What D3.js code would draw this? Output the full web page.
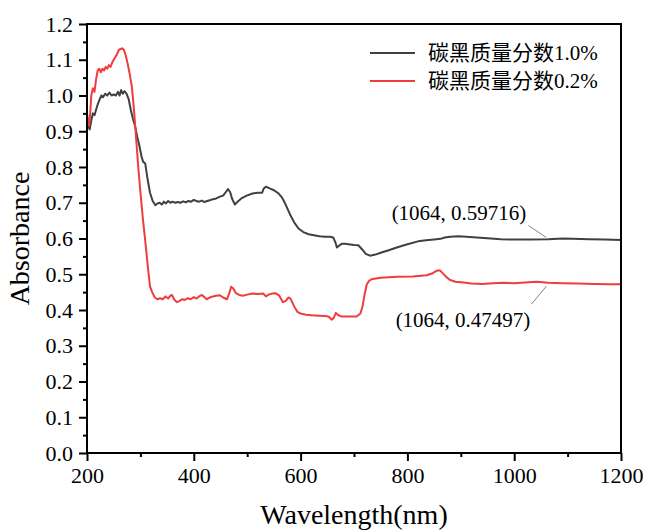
<!DOCTYPE html>
<html>
<head>
<meta charset="utf-8">
<script src="https://cdn.jsdelivr.net/npm/d3@7"></script>
<style>
  body { margin: 0; background: #fff; }
</style>
</head>
<body>
<div id="chart"></div>
<script>
// wavelength (nm) and absorbance
const blackWl = [200, 202, 205, 208, 211, 214, 217, 220, 224, 227, 230, 234, 238, 242, 246, 250, 254, 258, 261, 264, 267, 270, 274, 278, 282, 286, 290, 294, 298, 302, 305, 309, 313, 318, 323, 328, 332, 336, 340, 344, 348, 352, 356, 360, 365, 370, 375, 380, 385, 390, 395, 400, 405, 410, 415, 420, 425, 430, 436, 442, 449, 455, 460, 464, 468, 472, 477, 482, 490, 499, 510, 520, 528, 531, 535, 542, 550, 558, 565, 572, 580, 588, 596, 605, 615, 625, 635, 645, 655, 661, 665, 668, 672, 677, 683, 690, 700, 708, 715, 722, 730, 740, 750, 765, 780, 800, 820, 835, 850, 862, 870, 880, 895, 910, 930, 950, 975, 1000, 1030, 1064, 1090, 1110, 1140, 1170, 1200];
const blackAbs = [0.93, 0.915, 0.905, 0.93, 0.95, 0.945, 0.96, 0.975, 0.99, 1.0, 0.995, 1.005, 1.0, 1.008, 1.0, 1.003, 1.0, 1.01, 1.0, 1.015, 1.005, 1.012, 1.005, 0.99, 0.96, 0.935, 0.915, 0.885, 0.86, 0.83, 0.815, 0.81, 0.77, 0.728, 0.705, 0.693, 0.698, 0.70, 0.695, 0.703, 0.698, 0.705, 0.70, 0.703, 0.70, 0.702, 0.70, 0.704, 0.701, 0.705, 0.703, 0.708, 0.705, 0.703, 0.706, 0.702, 0.705, 0.707, 0.71, 0.712, 0.717, 0.72, 0.73, 0.738, 0.73, 0.71, 0.695, 0.703, 0.713, 0.72, 0.726, 0.728, 0.728, 0.74, 0.745, 0.74, 0.735, 0.727, 0.715, 0.695, 0.668, 0.645, 0.628, 0.618, 0.612, 0.609, 0.606, 0.605, 0.605, 0.603, 0.59, 0.575, 0.58, 0.585, 0.585, 0.584, 0.582, 0.581, 0.57, 0.557, 0.552, 0.555, 0.56, 0.567, 0.575, 0.584, 0.592, 0.595, 0.597, 0.599, 0.603, 0.605, 0.606, 0.605, 0.603, 0.601, 0.598, 0.597, 0.597, 0.598, 0.60, 0.599, 0.598, 0.597, 0.596];

const redWl = [200, 202, 204, 206, 208, 211, 214, 217, 220, 223, 226, 229, 232, 235, 238, 241, 244, 248, 252, 256, 260, 263, 266, 269, 272, 276, 280, 284, 288, 292, 296, 300, 305, 309, 314, 318, 322, 327, 332, 337, 342, 347, 352, 356, 359, 363, 368, 373, 378, 383, 389, 394, 400, 405, 410, 415, 420, 424, 430, 436, 442, 449, 455, 462, 466, 470, 474, 479, 485, 492, 500, 510, 520, 530, 535, 540, 547, 553, 560, 567, 572, 577, 581, 588, 594, 600, 610, 620, 635, 646, 653, 658, 662, 666, 670, 676, 690, 705, 712, 716, 720, 724, 729, 735, 750, 780, 810, 836, 846, 855, 861, 866, 873, 880, 890, 905, 920, 940, 960, 980, 1000, 1020, 1042, 1064, 1090, 1120, 1150, 1180, 1200];
const redAbs = [0.95, 0.93, 0.915, 0.95, 1.0, 1.02, 1.01, 1.045, 1.07, 1.075, 1.065, 1.075, 1.07, 1.08, 1.075, 1.085, 1.08, 1.095, 1.105, 1.115, 1.128, 1.13, 1.132, 1.128, 1.115, 1.09, 1.06, 1.025, 0.96, 0.88, 0.80, 0.73, 0.65, 0.595, 0.52, 0.466, 0.45, 0.435, 0.43, 0.433, 0.43, 0.438, 0.432, 0.44, 0.442, 0.43, 0.422, 0.425, 0.43, 0.428, 0.433, 0.43, 0.436, 0.432, 0.438, 0.442, 0.436, 0.43, 0.435, 0.438, 0.44, 0.441, 0.435, 0.43, 0.445, 0.465, 0.46, 0.447, 0.442, 0.44, 0.443, 0.446, 0.445, 0.446, 0.438, 0.443, 0.446, 0.447, 0.44, 0.422, 0.425, 0.435, 0.432, 0.41, 0.395, 0.39, 0.387, 0.385, 0.384, 0.383, 0.381, 0.373, 0.378, 0.392, 0.386, 0.382, 0.382, 0.382, 0.39, 0.41, 0.445, 0.472, 0.483, 0.487, 0.49, 0.493, 0.494, 0.497, 0.502, 0.51, 0.511, 0.503, 0.492, 0.484, 0.479, 0.477, 0.474, 0.473, 0.475, 0.476, 0.475, 0.477, 0.479, 0.476, 0.475, 0.474, 0.473, 0.472, 0.472];

const seriesNames = ['碳黑质量分数1.0%', '碳黑质量分数0.2%'];
const seriesColors = ['#404040', '#f03c3c'];
const xTicks = [200, 400, 600, 800, 1000, 1200];
const yTicks = [0.0, 0.1, 0.2, 0.3, 0.4, 0.5, 0.6, 0.7, 0.8, 0.9, 1.0, 1.1, 1.2];
const markWl = 1064;
const markLabels = ['(1064, 0.59716)', '(1064, 0.47497)'];
const markValues = [0.59716, 0.47497];

const serif = '"Liberation Serif", "Times New Roman", "Noto Sans CJK SC", serif';

const W = 647, H = 530;
const margin = { top: 24, right: 26, bottom: 77, left: 87 };
const width = W - margin.left - margin.right;
const height = H - margin.top - margin.bottom;

const svg = d3.select('#chart')
  .append('svg')
  .attr('width', W)
  .attr('height', H)
  .append('g')
  .attr('transform', `translate(${margin.left}, ${margin.top})`);

const xScale = d3.scaleLinear().domain([200, 1200]).range([0, width]);
const yScale = d3.scaleLinear().domain([0, 1.2]).range([height, 0]);

// curves
const line = d3.line().x((d) => xScale(d[0])).y((d) => yScale(d[1]));
const series = [
  d3.zip(blackWl, blackAbs),
  d3.zip(redWl, redAbs)
];
series.forEach((s, i) => {
  svg.append('path')
    .datum(s)
    .attr('fill', 'none')
    .attr('stroke', seriesColors[i])
    .attr('stroke-width', 2)
    .attr('stroke-linejoin', 'round')
    .attr('d', line);
});

// bottom axis, major + minor ticks
svg.append('g')
  .attr('transform', `translate(0, ${height})`)
  .call(d3.axisBottom(xScale).tickValues(xTicks).tickSize(8).tickPadding(6).tickFormat(d3.format('d')));
svg.append('g')
  .attr('transform', `translate(0, ${height})`)
  .call(d3.axisBottom(xScale).tickValues(d3.range(300, 1200, 200)).tickSize(4).tickFormat(''));

// left axis, major + minor ticks
svg.append('g')
  .call(d3.axisLeft(yScale).tickValues(yTicks).tickSize(8).tickPadding(6).tickFormat(d3.format('.1f')));
svg.append('g')
  .call(d3.axisLeft(yScale).tickValues(d3.range(0.05, 1.2, 0.1)).tickSize(4).tickFormat(''));

svg.selectAll('.domain').remove();
svg.selectAll('.tick line').attr('stroke', '#000').attr('stroke-width', 2);
svg.selectAll('.tick text')
  .attr('font-family', serif)
  .style('font-family', serif)
  .style('font-size', '22px')
  .attr('fill', '#000');

// frame
svg.append('rect')
  .attr('width', width)
  .attr('height', height)
  .attr('fill', 'none')
  .attr('stroke', '#000')
  .attr('stroke-width', 2);

// axis titles
svg.append('text')
  .attr('x', width / 2)
  .attr('y', height + 71)
  .attr('text-anchor', 'middle')
  .style('font-family', serif)
  .style('font-size', '28px')
  .text('Wavelength(nm)');

svg.append('text')
  .attr('transform', `translate(${-58}, ${height / 2}) rotate(-90)`)
  .attr('text-anchor', 'middle')
  .style('font-family', serif)
  .style('font-size', '28px')
  .text('Absorbance');

// legend
const legend = svg.append('g').attr('transform', `translate(${370 - margin.left}, ${53 - margin.top})`);
seriesNames.forEach((name, i) => {
  legend.append('line')
    .attr('x1', 0).attr('x2', 45)
    .attr('y1', i * 28).attr('y2', i * 28)
    .attr('stroke', seriesColors[i])
    .attr('stroke-width', 2);
  legend.append('text')
    .attr('x', 58)
    .attr('y', i * 28)
    .attr('dy', '0.35em')
    .style('font-family', serif)
    .style('font-size', '21px')
    .text(name);
});

// point annotations at 1064 nm
const px = xScale(markWl);
// black: label above-left
svg.append('line')
  .attr('x1', px - 20).attr('y1', yScale(markValues[0]) - 14)
  .attr('x2', px - 2).attr('y2', yScale(markValues[0]) - 2)
  .attr('stroke', '#666').attr('stroke-width', 0.8);
svg.append('text')
  .attr('x', px - 22)
  .attr('y', yScale(markValues[0]) - 20)
  .attr('text-anchor', 'end')
  .style('font-family', serif)
  .style('font-size', '21px')
  .text(markLabels[0]);

// red: label below-left
svg.append('line')
  .attr('x1', px - 17).attr('y1', yScale(markValues[1]) + 21)
  .attr('x2', px - 2).attr('y2', yScale(markValues[1]) + 3)
  .attr('stroke', '#666').attr('stroke-width', 0.8);
svg.append('text')
  .attr('x', px - 18)
  .attr('y', yScale(markValues[1]) + 44)
  .attr('text-anchor', 'end')
  .style('font-family', serif)
  .style('font-size', '21px')
  .text(markLabels[1]);
</script>
</body>
</html>
